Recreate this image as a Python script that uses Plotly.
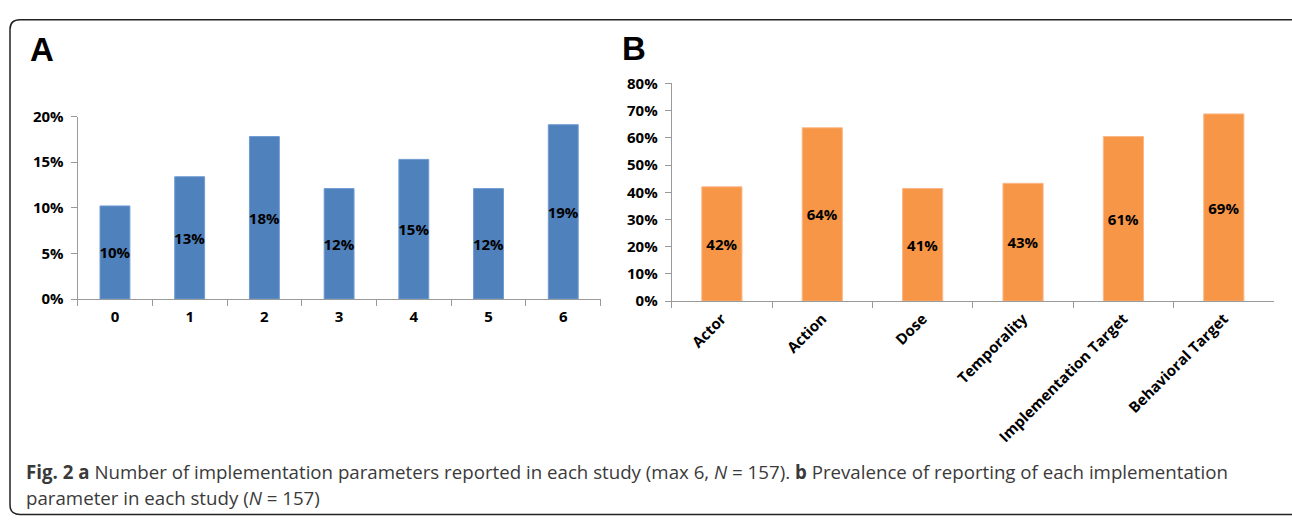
import plotly.graph_objects as go

W, H = 1292, 523

# ---- data ----
a_categories = ["0", "1", "2", "3", "4", "5", "6"]
a_values = [0.102, 0.134, 0.178, 0.121, 0.153, 0.121, 0.191]

b_categories = ["Actor", "Action", "Dose", "Temporality",
                "Implementation Target", "Behavioral Target"]
b_values = [0.420, 0.637, 0.414, 0.433, 0.605, 0.688]

caption_line1 = ("<b>Fig. 2 a</b> Number of implementation parameters reported in each study "
                 "(max 6, <i>N</i> = 157). <b>b</b> Prevalence of reporting of each implementation")
caption_line2 = "parameter in each study (<i>N</i> = 157)"

# ---- style ----
BLUE = "#4f81bd"
ORANGE = "#f79646"
AXIS = "#9a9a9a"
FONT = "Open Sans"
tickfont = dict(family=FONT, size=15, color="black", weight="bold")


def px(x):
    return x / W


def py(y):
    return 1 - y / H


fig = go.Figure()

fig.add_trace(go.Bar(
    x=a_categories, y=a_values, marker=dict(color=BLUE, line=dict(color="#6f9bd0", width=1)),
    width=0.4, text=a_values, texttemplate="%{y:.0%}", textposition="inside",
    insidetextanchor="middle", textangle=0, constraintext="none",
    textfont=dict(family=FONT, size=15, color="black", weight="bold"),
    xaxis="x", yaxis="y", showlegend=False, hoverinfo="skip",
))

fig.add_trace(go.Bar(
    x=b_categories, y=b_values, marker=dict(color=ORANGE, line=dict(color="#fab889", width=1)),
    width=0.4, text=b_values, texttemplate="%{y:.0%}", textposition="inside",
    insidetextanchor="middle", textangle=0, constraintext="none",
    textfont=dict(family=FONT, size=15, color="black", weight="bold"),
    xaxis="x2", yaxis="y2", showlegend=False, hoverinfo="skip",
))

common_x = dict(type="category", showline=True, linecolor=AXIS, linewidth=1,
                ticks="outside", tickson="boundaries", ticklen=6, tickcolor=AXIS,
                tickfont=tickfont, showgrid=False, zeroline=False, fixedrange=True)
common_y = dict(showline=True, linecolor=AXIS, linewidth=1, ticks="outside",
                ticklen=6, tickcolor=AXIS, tickformat=".0%", tickfont=tickfont,
                showgrid=False, zeroline=False, fixedrange=True)

fig.update_layout(
    width=W, height=H,
    margin=dict(l=0, r=0, t=0, b=0),
    paper_bgcolor="white", plot_bgcolor="white",
    bargap=0.6,
    xaxis=dict(common_x, domain=[px(77.6), px(600.6)], anchor="y", ticklabelstandoff=4),
    yaxis=dict(common_y, domain=[py(299.5), py(109.7)], range=[0, 0.2], dtick=0.05,
               anchor="x", ticklabelstandoff=4),
    xaxis2=dict(common_x, domain=[px(671.7), px(1274)], anchor="y2", tickangle=-45,
                ticklabelstandoff=2),
    yaxis2=dict(common_y, domain=[py(301.7), py(75.3)], range=[0, 0.8], dtick=0.1,
                anchor="x2", ticklabelstandoff=4),
)

# panel letters
fig.add_annotation(text="<b>A</b>", x=px(41.5), y=py(40), xref="paper", yref="paper",
                   xanchor="center", yanchor="middle", showarrow=False,
                   font=dict(family="Liberation Sans", size=33, color="black"))
fig.add_annotation(text="<b>B</b>", x=px(634), y=py(39.5), xref="paper", yref="paper",
                   xanchor="center", yanchor="middle", showarrow=False,
                   font=dict(family="Liberation Sans", size=33, color="black"))

# caption
fig.add_annotation(text=caption_line1, x=px(24), y=py(479), xref="paper", yref="paper",
                   xanchor="left", yanchor="middle", showarrow=False,
                   font=dict(family=FONT, size=18.7, color="#3a3a3a"))
fig.add_annotation(text=caption_line2, x=px(24), y=py(506), xref="paper", yref="paper",
                   xanchor="left", yanchor="middle", showarrow=False,
                   font=dict(family=FONT, size=18.7, color="#3a3a3a"))

# outer rounded frame
x0, y0, x1, y1, r = 10, 9, 1305, 523.5, 10
path = (f"M {px(x0)},{py(y1 - r)} L {px(x0)},{py(y0 + r)} "
        f"Q {px(x0)},{py(y0)} {px(x0 + r)},{py(y0)} "
        f"L {px(x1 - r)},{py(y0)} Q {px(x1)},{py(y0)} {px(x1)},{py(y0 + r)} "
        f"L {px(x1)},{py(y1 - r)} Q {px(x1)},{py(y1)} {px(x1 - r)},{py(y1)} "
        f"L {px(x0 + r)},{py(y1)} Q {px(x0)},{py(y1)} {px(x0)},{py(y1 - r)} Z")
fig.add_shape(type="path", path=path, xref="paper", yref="paper",
              line=dict(color="#222222", width=1.5), layer="above")

fig.write_html("out.html", config={"displayModeBar": False},
               post_script="document.body.style.margin='0';document.body.style.overflow='hidden';")
